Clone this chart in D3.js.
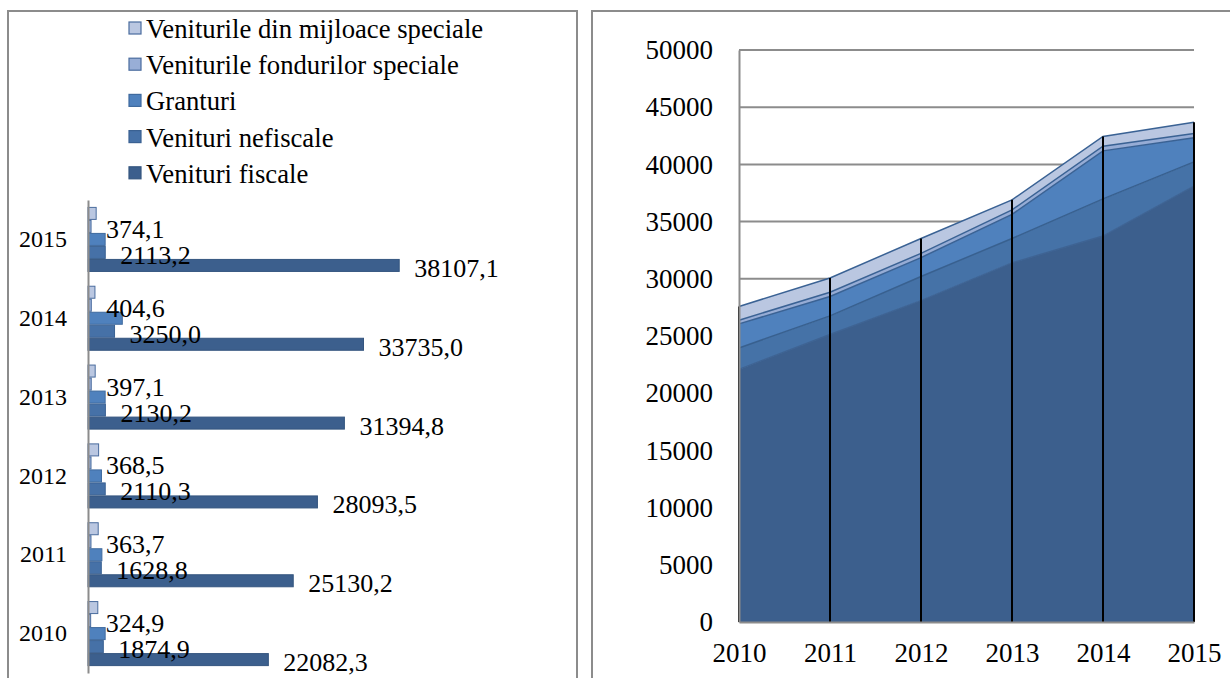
<!DOCTYPE html>
<html>
<head>
<meta charset="utf-8">
<script src="https://cdn.jsdelivr.net/npm/d3@7"></script>
<style>
  html, body { margin: 0; padding: 0; background: #fff; }
  svg { display: block; }
  text { font-family: "Liberation Serif", "Times New Roman", serif; fill: #000; }
</style>
</head>
<body>
<svg id="chart" width="1230" height="678"></svg>
<script>
// Budget revenues by source, 2010-2015 (mil. lei)
const years = [2010, 2011, 2012, 2013, 2014, 2015];
const venituriFiscale = [22082.3, 25130.2, 28093.5, 31394.8, 33735.0, 38107.1];
const venituriNefiscale = [1874.9, 1628.8, 2110.3, 2130.2, 3250.0, 2113.2];
const granturi = [2100, 1700, 1650, 2100, 4200, 2100];
const fonduriSpeciale = [324.9, 363.7, 368.5, 397.1, 404.6, 374.1];
const mijloaceSpeciale = [1200, 1250, 1300, 880, 850, 1000];
const seriesNames = [
  "Veniturile din mijloace speciale",
  "Veniturile fondurilor speciale",
  "Granturi",
  "Venituri nefiscale",
  "Venituri fiscale"
];
const yTicks = [0, 5000, 10000, 15000, 20000, 25000, 30000, 35000, 40000, 45000, 50000];

const seriesValues = [mijloaceSpeciale, fonduriSpeciale, granturi, venituriNefiscale, venituriFiscale];
const fills = ["#BAC7E1", "#98AED6", "#4F81BD", "#4671A7", "#3C5F8D"];
const outlines = ["#4A6C9E", "#4A6C9E", "#3F6A9E", "#3A6192", "#34557F"];
const labelled = [false, true, false, true, true];

const fmt = d3.formatLocale({decimal: ",", thousands: "", grouping: [3], currency: ["", ""]}).format(".1f");

const svg = d3.select("#chart");

// Panel frames
svg.append("path").attr("d", "M8,678 V11 H577 V678")
  .attr("fill", "none").attr("stroke", "#8C8C8C").attr("stroke-width", 2);
svg.append("path").attr("d", "M592,678 V11 H1232")
  .attr("fill", "none").attr("stroke", "#8C8C8C").attr("stroke-width", 2);

// ---------- Left: grouped horizontal bars ----------
const left = svg.append("g");
const xBar = d3.scaleLinear().domain([0, 60000]).range([88, 578]);
const yBand = d3.scaleBand().domain(years.slice().reverse()).range([200, 673])
  .paddingInner(0.175).paddingOuter(0.0875);
const ySub = d3.scaleBand().domain(d3.range(seriesNames.length)).range([0, yBand.bandwidth()]);

const barLayer = left.append("g");
const labelLayer = left.append("g");
years.forEach((yr, i) => {
  const y0 = yBand(yr);
  seriesValues.forEach((vals, s) => {
    barLayer.append("rect")
      .attr("x", xBar(0))
      .attr("y", y0 + ySub(s) + 0.5)
      .attr("width", xBar(vals[i]) - xBar(0))
      .attr("height", ySub.bandwidth() - 1)
      .attr("fill", fills[s])
      .attr("stroke", outlines[s])
      .attr("stroke-width", 1);
    if (labelled[s]) {
      labelLayer.append("text")
        .attr("x", xBar(vals[i]) + 15)
        .attr("y", y0 + ySub(s) + ySub.bandwidth() / 2 + 3)
        .attr("dominant-baseline", "central")
        .attr("font-size", 26)
        .text(fmt(vals[i]));
    }
  });
});

// Category axis
const yAxisLeft = d3.axisLeft(yBand).tickSize(0).tickPadding(21);
const gy = left.append("g").attr("transform", `translate(${xBar(0)},0)`).call(yAxisLeft);
gy.select(".domain").attr("stroke", "#8C8C8C").attr("stroke-width", 2);
gy.selectAll("text").attr("font-size", 24);
labelLayer.raise();

// Legend
const legend = left.append("g");
seriesNames.forEach((name, s) => {
  const cy = 28 + s * 36.2;
  legend.append("rect").attr("x", 129).attr("y", cy - 6).attr("width", 12).attr("height", 12)
    .attr("fill", fills[s]).attr("stroke", outlines[s]).attr("stroke-width", 1.2);
  legend.append("text").attr("x", 146).attr("y", cy + 1).attr("dominant-baseline", "central")
    .attr("font-size", 26.7).text(name);
});

// ---------- Right: stacked area ----------
const right = svg.append("g");
const xA = d3.scaleLinear().domain([2010, 2015]).range([739, 1194]);
const yA = d3.scaleLinear().domain([0, 50000]).range([622, 50]);

// gridlines
right.append("g").selectAll("line").data(yTicks.filter(t => t > 0)).join("line")
  .attr("x1", xA(2010)).attr("x2", xA(2015))
  .attr("y1", d => yA(d)).attr("y2", d => yA(d))
  .attr("stroke", "#8C8C8C").attr("stroke-width", 2);

const rows = years.map((yr, i) => ({
  year: yr, fisc: venituriFiscale[i], nef: venituriNefiscale[i], gr: granturi[i],
  fond: fonduriSpeciale[i], mij: mijloaceSpeciale[i]
}));
const keys = ["fisc", "nef", "gr", "fond", "mij"];
const stacked = d3.stack().keys(keys)(rows);
const areaFills = { fisc: "#3C5F8D", nef: "#4572A7", gr: "#4F81BD", fond: "#96ACD5", mij: "#BAC7E1" };
const edgeColors = { fisc: "#3E6393", nef: "#38608F", gr: "#3A6294", fond: "#3A6294", mij: "#3A6294" };

const area = d3.area().x(d => xA(d.data.year)).y0(d => yA(d[0])).y1(d => yA(d[1]));
const topLine = d3.line().x(d => xA(d.data.year)).y(d => yA(d[1]));

right.append("g").selectAll("path").data(stacked).join("path")
  .attr("d", area).attr("fill", d => areaFills[d.key]);
right.append("g").selectAll("path").data(stacked).join("path")
  .attr("d", topLine).attr("fill", "none")
  .attr("stroke", d => edgeColors[d.key]).attr("stroke-width", 1.5);

// drop lines
const totals = rows.map(r => r.fisc + r.nef + r.gr + r.fond + r.mij);
right.append("g").selectAll("line").data(years).join("line")
  .attr("x1", d => xA(d)).attr("x2", d => xA(d))
  .attr("y1", (d, i) => yA(totals[i])).attr("y2", yA(0))
  .attr("stroke", "#000").attr("stroke-width", 2);

// axes
const yAxisR = d3.axisLeft(yA).tickValues(yTicks).tickFormat(d3.format("d")).tickSize(0).tickPadding(26);
const gyR = right.append("g").attr("transform", `translate(${xA(2010)},0)`).call(yAxisR);
gyR.select(".domain").attr("stroke", "#8C8C8C").attr("stroke-width", 2);
gyR.selectAll("text").attr("font-size", 27);

const xAxisR = d3.axisBottom(xA).tickValues(years).tickFormat(d3.format("d")).tickSize(0).tickPadding(21);
const gxR = right.append("g").attr("transform", `translate(0,${yA(0)})`).call(xAxisR);
gxR.select(".domain").attr("stroke", "#8C8C8C").attr("stroke-width", 2);
gxR.selectAll("text").attr("font-size", 27);
</script>
</body>
</html>
